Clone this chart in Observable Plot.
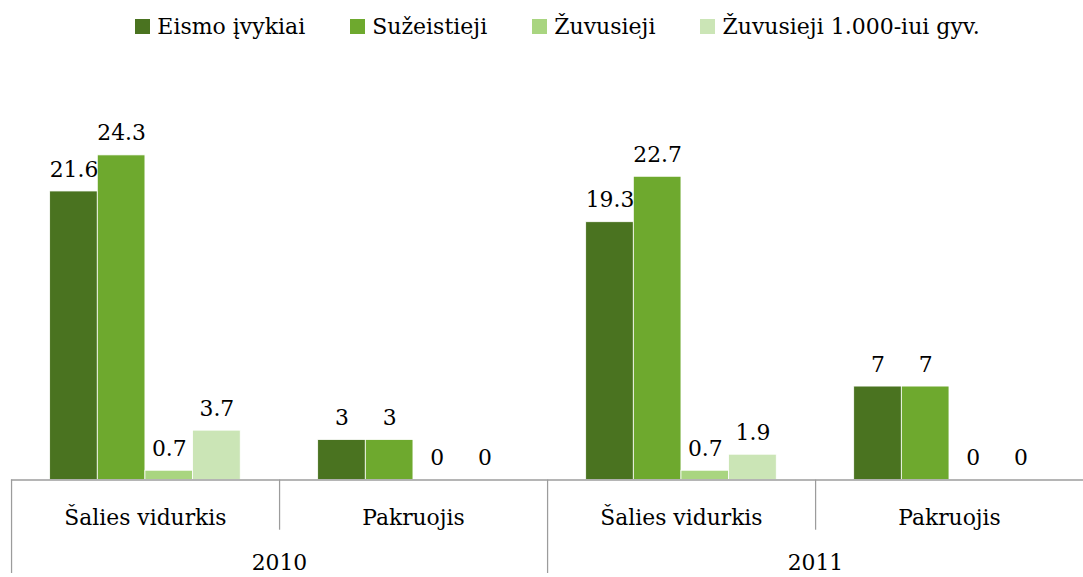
<!DOCTYPE html>
<html>
<head>
<meta charset="utf-8">
<script src="https://cdn.jsdelivr.net/npm/d3@7"></script>
<script src="https://cdn.jsdelivr.net/npm/@observablehq/plot@0.6"></script>
<style>
  html, body { margin: 0; padding: 0; background: #fff; overflow: hidden; }
  #legend { height: 52px; display: flex; justify-content: center; align-items: center; gap: 45px;
    font-family: "DejaVu Serif", serif; font-size: 22px; color: #000; padding-left: 32px; }
  #legend .item { display: flex; align-items: center; }
  #legend .sw { width: 15px; height: 15px; margin-right: 7px; }
  #chart svg { display: block; }
</style>
</head>
<body>
<div id="legend"></div>
<div id="chart"></div>
<script>
const years = ["2010", "2011"];
const categories = ["Šalies vidurkis", "Pakruojis"];
const seriesNames = ["Eismo įvykiai", "Sužeistieji", "Žuvusieji", "Žuvusieji 1.000-iui gyv."];
const colors = ["#4a7320", "#6ea92e", "#a9d580", "#cbe5b6"];
// values per group: 2010 Šalies, 2010 Pakruojis, 2011 Šalies, 2011 Pakruojis
const eismoIvykiai = [21.6, 3, 19.3, 7];
const suzeistieji = [24.3, 3, 22.7, 7];
const zuvusieji = [0.7, 0, 0.7, 0];
const zuvusieji1000 = [3.7, 0, 1.9, 0];
const valueLabels = [
  ["21.6", "3", "19.3", "7"],
  ["24.3", "3", "22.7", "7"],
  ["0.7", "0", "0.7", "0"],
  ["3.7", "0", "1.9", "0"]
];
const seriesValues = [eismoIvykiai, suzeistieji, zuvusieji, zuvusieji1000];

const groups = [];
years.forEach(y => categories.forEach((c, ci) => groups.push({key: y + "|" + c, year: y, cat: c, first: ci === 0})));
const keys = groups.map(g => g.key);

const rows = [];
groups.forEach((g, gi) => seriesNames.forEach((s, si) => {
  rows.push({key: g.key, series: s, value: seriesValues[si][gi], label: valueLabels[si][gi]});
}));

// legend
const legend = document.getElementById("legend");
seriesNames.forEach((s, i) => {
  const it = document.createElement("div");
  it.className = "item";
  it.innerHTML = `<span class="sw" style="background:${colors[i]}"></span><span>${s}</span>`;
  legend.appendChild(it);
});

const W = 1091, H = 525, ML = 10, MR = 0;
const facetW = (W - ML - MR) / keys.length;
const lineColor = "#9c9c9c";
const font = "DejaVu Serif";
const fs = 22;

const chart = Plot.plot({
  width: W, height: H,
  marginLeft: ML, marginRight: MR, marginTop: 0, marginBottom: 0,
  style: {fontFamily: font, fontSize: fs + "px", background: "white", overflow: "visible"},
  fx: {domain: keys, padding: 0, axis: null},
  x: {domain: seriesNames, paddingInner: 0, paddingOuter: 0.758, axis: null},
  y: {domain: [-7, 32], axis: null},
  color: {domain: seriesNames, range: colors},
  marks: [
    Plot.barY(rows, {fx: "key", x: "series", y: "value", fill: "series", stroke: "white", strokeWidth: 0.8}),
    Plot.text(rows, {fx: "key", x: "series", y: "value", text: "label", dy: -15, lineAnchor: "bottom",
      fontSize: fs, fill: "#000"}),
    Plot.ruleY([0], {stroke: lineColor, strokeWidth: 1.5}),
    Plot.rect(groups, {fx: "key", y1: () => 0, y2: d => d.first ? -7 : -3.75, fill: lineColor,
      insetRight: facetW - 1.5}),
    Plot.text(groups, {fx: "key", y: () => -2.85, text: "cat", lineAnchor: "middle", fontSize: fs, fill: "#000"}),
    Plot.text(groups.filter(g => g.first), {fx: "key", y: () => -6.2, text: "year", frameAnchor: "right",
      textAnchor: "middle", lineAnchor: "middle", fontSize: fs, fill: "#000"})
  ]
});
document.getElementById("chart").appendChild(chart);
</script>
</body>
</html>
